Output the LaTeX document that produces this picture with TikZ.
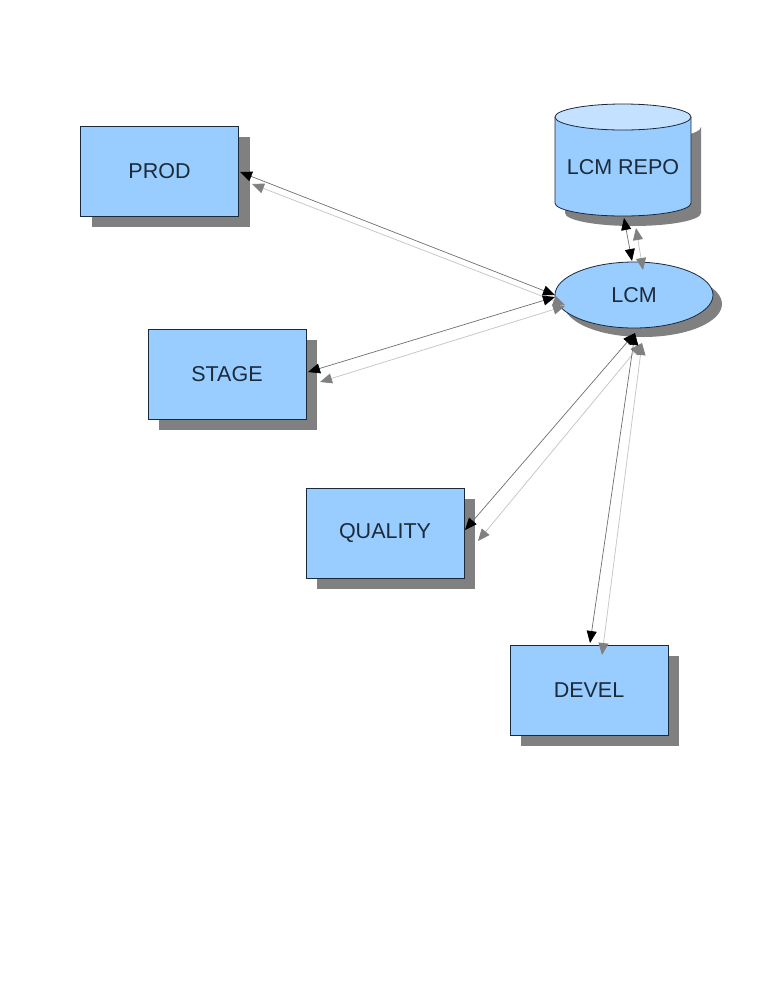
\documentclass[tikz,border=0pt]{standalone}
\usepackage{fontspec}
\setmainfont{Liberation Sans}
\usetikzlibrary{arrows.meta,shapes.geometric,shadows}
\definecolor{boxfill}{HTML}{99CCFF}
\definecolor{topfill}{HTML}{C4E2FF}
\definecolor{edge}{HTML}{1B2A3A}
\definecolor{shadowgray}{HTML}{808080}
\definecolor{txt}{HTML}{1C2B3A}
\definecolor{darkline}{HTML}{6E6E6E}
\definecolor{lightline}{HTML}{C8C8C8}
\tikzset{
  shad/.style={drop shadow={shadow xshift=11pt,shadow yshift=-11pt,fill=shadowgray,opacity=1}},
  envbox/.style={rectangle,draw=edge,line width=0.8pt,fill=boxfill,minimum width=158pt,minimum height=90pt,
    text=txt,font=\fontsize{21.5}{25}\selectfont,shad},
  hub/.style={ellipse,draw=edge,line width=0.8pt,fill=boxfill,minimum width=158pt,minimum height=66pt,inner sep=0pt,
    text=txt,font=\fontsize{21.5}{25}\selectfont,drop shadow={shadow xshift=9pt,shadow yshift=-9pt,fill=shadowgray,opacity=1}},
  blk/.style={draw=darkline,line width=0.7pt,{Triangle[length=12pt,width=10pt,fill=black,color=black]}-{Triangle[length=12pt,width=10pt,fill=black,color=black]}},
  gry/.style={draw=lightline,line width=0.8pt,{Triangle[length=12pt,width=10pt,fill=shadowgray,color=shadowgray]}-{Triangle[length=12pt,width=10pt,fill=shadowgray,color=shadowgray]}}
}
\begin{document}
\begin{tikzpicture}[x=1pt,y=-1pt]
\useasboundingbox (0,0) rectangle (768,994);
% nodes
\node[envbox] (prod) at (159.5,171) {PROD};
\node[envbox] (stage) at (227,374) {STAGE};
\node[envbox] (quality) at (385,533) {QUALITY};
\node[envbox] (devel) at (589,690) {DEVEL};
\node[hub] (lcm) at (634,295) {LCM};
% cylinder LCM REPO
\fill[shadowgray] (565,127) -- (565,213) arc[start angle=180,end angle=360,x radius=68,y radius=-13] -- (701,127) arc[start angle=0,end angle=180,x radius=68,y radius=13] -- cycle;
\draw[edge,line width=0.8pt,fill=boxfill] (555,117) -- (555,203) arc[start angle=180,end angle=360,x radius=68,y radius=-13] -- (691,117);
\draw[edge,line width=0.8pt,fill=topfill] (623,117) ellipse[x radius=68,y radius=13];
\node[text=txt,font=\fontsize{21.5}{25}\selectfont] (repo) at (623,167) {LCM REPO};
% connector end points
\coordinate (pA) at (240,172); \coordinate (pB) at (252,184);
\coordinate (lA) at (555,295); \coordinate (lB) at (565,305);
\coordinate (sA) at (308,372); \coordinate (sB) at (320,382);
\coordinate (lC) at (555,297); \coordinate (lD) at (565,306);
\coordinate (qA) at (465,530); \coordinate (qB) at (478,541);
\coordinate (lE) at (635,333); \coordinate (lF) at (642,343);
\coordinate (dA) at (590,643); \coordinate (dB) at (602,655);
\coordinate (rA) at (624,218); \coordinate (rB) at (636,228);
\coordinate (lG) at (632,261); \coordinate (lH) at (643,270);
% connectors
\draw[gry] (pB) -- (lB);
\draw[blk] (pA) -- (lA);
\draw[gry] (sB) -- (lD);
\draw[blk] (sA) -- (lC);
\draw[gry] (qB) -- (lF);
\draw[blk] (qA) -- (lE);
\draw[gry] (dB) -- (lF);
\draw[blk] (dA) -- (lE);
\draw[gry] (rB) -- (lH);
\draw[blk] (rA) -- (lG);
\end{tikzpicture}
\end{document}
